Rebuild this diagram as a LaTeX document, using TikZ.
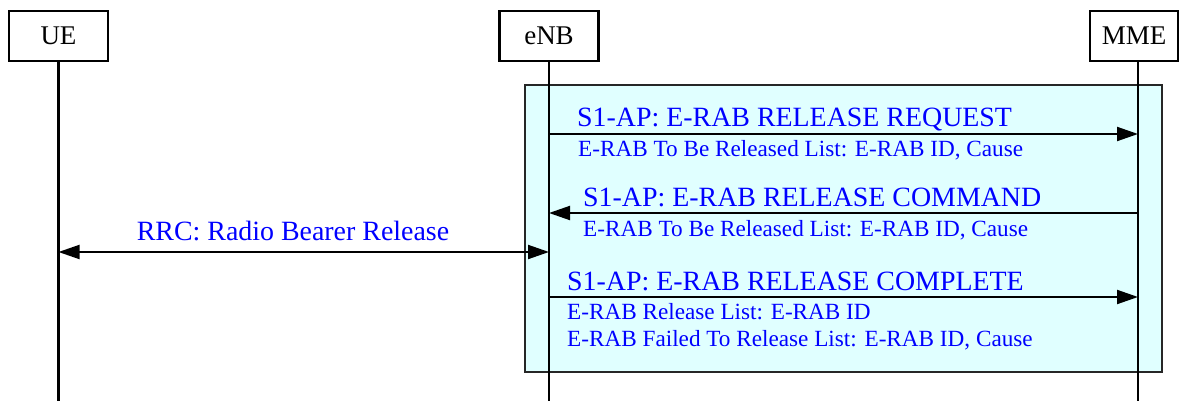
\documentclass[tikz,border=0pt]{standalone}
\usepackage{fontspec}
\setmainfont{Liberation Serif}
\usetikzlibrary{arrows.meta}
\definecolor{boxcyan}{HTML}{E0FFFF}
\definecolor{msgblue}{HTML}{0000FF}
\begin{document}
\begin{tikzpicture}[x={(1pt,0)},y={(0,-1pt)},
  actor/.style={draw=black,line width=2.4pt,minimum height=50pt,inner sep=0pt,font=\fontsize{27}{30}\selectfont},
  life/.style={line width=2.2pt},
  msg/.style={line width=2pt,-{Triangle[length=21pt,width=14pt]}},
  bimsg/.style={line width=2pt,{Triangle[length=21pt,width=14pt]}-{Triangle[length=21pt,width=14pt]}},
  mainlbl/.style={text=msgblue,inner sep=0pt,anchor=base west,font=\fontsize{27.9}{30}\selectfont},
  sublbl/.style={text=msgblue,inner sep=0pt,anchor=base west,font=\fontsize{23.2}{25}\selectfont},
  phase/.style={draw=black!85,line width=1.8pt,fill=boxcyan}]
\useasboundingbox (0,0) rectangle (1180,401);
% actors
\node[actor,minimum width=99pt] (ue) at (58.5,36) {UE};
\node[actor,minimum width=99pt] (enb) at (549,36) {eNB};
\node[actor,minimum width=88pt] (mme) at (1134,36) {MME};
% phase box
\node[phase,minimum width=637pt,minimum height=287pt,inner sep=0pt] (ph) at (843.5,228.5) {};
% lifelines
\coordinate (ueEnd) at (58.5,401);
\coordinate (enbEnd) at (549,401);
\coordinate (mmeEnd) at (1138,401);
\coordinate (mmeTop) at (1138,61);
\draw[life] (ue.south) -- (ueEnd);
\draw[life] (enb.south) -- (enbEnd);
\draw[life] (mmeTop) -- (mmeEnd);
% message endpoints
\coordinate (e1) at (549,134);  \coordinate (m1) at (1138,134);
\coordinate (e2) at (549,213);  \coordinate (m2) at (1138,213);
\coordinate (u3) at (58.5,252); \coordinate (e3) at (549,252);
\coordinate (e4) at (549,297);  \coordinate (m4) at (1138,297);
\draw[msg] (e1) -- (m1);
\draw[msg] (m2) -- (e2);
\draw[bimsg] (u3) -- (e3);
\draw[msg] (e4) -- (m4);
% labels
\node[mainlbl] (l1) at (577,127) {S1-AP: E-RAB RELEASE REQUEST};
\node[sublbl] (s1) at (578,156) {E-RAB To Be Released List: E-RAB ID, Cause};
\node[mainlbl] (l2) at (583,206.5) {S1-AP: E-RAB RELEASE COMMAND};
\node[sublbl] (s2) at (583,236.5) {E-RAB To Be Released List: E-RAB ID, Cause};
\node[mainlbl,anchor=base] (l3) at (293,240) {RRC: Radio Bearer Release};
\node[mainlbl] (l4) at (567,290) {S1-AP: E-RAB RELEASE COMPLETE};
\node[sublbl] (s4a) at (567,319) {E-RAB Release List: E-RAB ID};
\node[sublbl] (s4b) at (567,346.5) {E-RAB Failed To Release List: E-RAB ID, Cause};
\end{tikzpicture}
\end{document}
